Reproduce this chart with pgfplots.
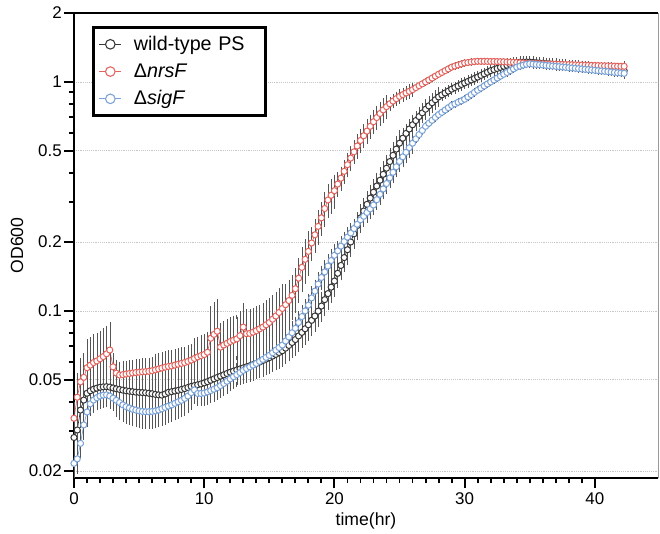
\documentclass[border=0pt]{standalone}
\usepackage{fontspec}
\setmainfont{Liberation Sans}
\usepackage{pgfplots}
\pgfplotsset{compat=1.18}
\usepackage{pgfplotstable}

\definecolor{wtcol}{RGB}{55,55,55}
\definecolor{nrcol}{RGB}{226,100,94}
\definecolor{sgcol}{RGB}{122,162,214}
\definecolor{ebcol}{RGB}{85,85,85}

% t = time (hr); wt, nr, sg = OD600; *e = relative error
\pgfplotstableread{
t wt wte nr nre sg sge
0 0.0280 0.15 0.0340 0.15 0.0216 0.12
0.25 0.0302 0.15 0.0420 0.25 0.0226 0.12
0.5 0.0369 0.15 0.0490 0.25 0.0264 0.12
0.75 0.0408 0.15 0.0513 0.25 0.0318 0.12
1 0.0437 0.12 0.0565 0.30 0.0362 0.12
1.25 0.0448 0.12 0.0580 0.30 0.0393 0.10
1.5 0.0455 0.12 0.0595 0.30 0.0408 0.10
1.75 0.0460 0.12 0.0605 0.30 0.0418 0.10
2 0.0464 0.12 0.0618 0.30 0.0425 0.10
2.25 0.0466 0.12 0.0632 0.30 0.0429 0.10
2.5 0.0467 0.12 0.0650 0.30 0.0430 0.10
2.75 0.0465 0.12 0.0675 0.30 0.0425 0.10
3 0.0461 0.12 0.0570 0.12 0.0416 0.10
3.25 0.0457 0.15 0.0535 0.12 0.0407 0.14
3.5 0.0454 0.15 0.0525 0.12 0.0398 0.14
3.75 0.0451 0.15 0.0527 0.12 0.0389 0.14
4 0.0448 0.15 0.0530 0.12 0.0382 0.14
4.25 0.0446 0.15 0.0533 0.12 0.0377 0.14
4.5 0.0444 0.15 0.0536 0.12 0.0372 0.14
4.75 0.0442 0.15 0.0538 0.12 0.0369 0.14
5 0.0441 0.15 0.0540 0.12 0.0366 0.14
5.25 0.0440 0.15 0.0542 0.12 0.0364 0.14
5.5 0.0439 0.15 0.0543 0.12 0.0363 0.14
5.75 0.0437 0.15 0.0545 0.12 0.0363 0.14
6 0.0435 0.15 0.0548 0.12 0.0364 0.14
6.25 0.0432 0.15 0.0553 0.15 0.0366 0.14
6.5 0.0430 0.15 0.0558 0.15 0.0369 0.14
6.75 0.0429 0.15 0.0563 0.15 0.0374 0.14
7 0.0434 0.15 0.0568 0.15 0.0379 0.14
7.25 0.0441 0.15 0.0572 0.15 0.0384 0.14
7.5 0.0444 0.15 0.0575 0.15 0.0389 0.14
7.75 0.0447 0.15 0.0580 0.15 0.0395 0.14
8 0.0450 0.15 0.0585 0.15 0.0401 0.14
8.25 0.0454 0.15 0.0590 0.15 0.0407 0.14
8.5 0.0458 0.15 0.0595 0.15 0.0415 0.14
8.75 0.0463 0.15 0.0602 0.15 0.0425 0.14
9 0.0468 0.15 0.0610 0.15 0.0440 0.14
9.25 0.0472 0.15 0.0620 0.20 0.0452 0.10
9.5 0.0476 0.15 0.0630 0.20 0.0436 0.10
9.75 0.0480 0.15 0.0638 0.20 0.0436 0.10
10 0.0485 0.15 0.0645 0.20 0.0438 0.10
10.25 0.0491 0.13 0.0660 0.20 0.0443 0.10
10.5 0.0498 0.13 0.0760 0.35 0.0449 0.10
10.75 0.0505 0.13 0.0790 0.35 0.0455 0.10
11 0.0512 0.13 0.0815 0.35 0.0462 0.10
11.25 0.0519 0.13 0.0695 0.25 0.0472 0.10
11.5 0.0526 0.13 0.0710 0.25 0.0482 0.10
11.75 0.0533 0.13 0.0722 0.25 0.0493 0.10
12 0.0540 0.13 0.0735 0.25 0.0505 0.10
12.25 0.0546 0.13 0.0745 0.25 0.0516 0.10
12.5 0.0552 0.13 0.0755 0.25 0.0527 0.10
12.75 0.0558 0.13 0.0780 0.25 0.0538 0.10
13 0.0564 0.13 0.0850 0.25 0.0550 0.10
13.25 0.0570 0.13 0.0795 0.25 0.0560 0.10
13.5 0.0576 0.13 0.0798 0.25 0.0570 0.10
13.75 0.0583 0.13 0.0808 0.25 0.0580 0.10
14 0.0590 0.13 0.0820 0.25 0.0590 0.10
14.25 0.0598 0.13 0.0835 0.25 0.0602 0.10
14.5 0.0607 0.13 0.0850 0.25 0.0614 0.10
14.75 0.0616 0.13 0.0870 0.25 0.0627 0.10
15 0.0625 0.13 0.0890 0.25 0.0640 0.10
15.25 0.0635 0.13 0.0920 0.25 0.0657 0.10
15.5 0.0646 0.13 0.0950 0.25 0.0674 0.10
15.75 0.0658 0.13 0.0985 0.25 0.0692 0.10
16 0.0670 0.13 0.1025 0.25 0.0710 0.10
16.25 0.0688 0.13 0.1065 0.20 0.0739 0.10
16.5 0.0707 0.13 0.1110 0.20 0.0770 0.10
16.75 0.0728 0.13 0.1170 0.20 0.0803 0.10
17 0.0750 0.13 0.1250 0.20 0.0840 0.10
17.25 0.0778 0.13 0.1390 0.20 0.0890 0.10
17.5 0.0806 0.13 0.1550 0.20 0.0945 0.10
17.75 0.0836 0.13 0.1680 0.20 0.1000 0.10
18 0.0870 0.13 0.1820 0.20 0.1060 0.10
18.25 0.0910 0.13 0.1980 0.15 0.1140 0.10
18.5 0.0950 0.13 0.2150 0.15 0.1220 0.10
18.75 0.0998 0.13 0.2340 0.15 0.1310 0.10
19 0.1050 0.13 0.2550 0.15 0.1400 0.10
19.25 0.1120 0.13 0.2800 0.15 0.1480 0.10
19.5 0.1190 0.13 0.3050 0.15 0.1570 0.10
19.75 0.1270 0.13 0.3200 0.15 0.1660 0.10
20 0.1350 0.13 0.3350 0.15 0.1750 0.10
20.25 0.1460 0.12 0.3580 0.10 0.1830 0.08
20.5 0.1580 0.12 0.3800 0.10 0.1920 0.08
20.75 0.1710 0.12 0.4070 0.10 0.2010 0.08
21 0.1850 0.12 0.4350 0.10 0.2100 0.08
21.25 0.2000 0.12 0.4650 0.10 0.2190 0.08
21.5 0.2170 0.12 0.4950 0.10 0.2290 0.08
21.75 0.2360 0.12 0.5250 0.10 0.2390 0.08
22 0.2550 0.12 0.5550 0.10 0.2500 0.08
22.25 0.2730 0.12 0.5820 0.10 0.2590 0.08
22.5 0.2920 0.12 0.6100 0.10 0.2690 0.08
22.75 0.3110 0.12 0.6400 0.10 0.2790 0.08
23 0.3300 0.12 0.6700 0.10 0.2900 0.08
23.25 0.3510 0.12 0.6990 0.10 0.3060 0.08
23.5 0.3720 0.12 0.7280 0.10 0.3230 0.08
23.75 0.3950 0.12 0.7550 0.10 0.3410 0.08
24 0.4200 0.12 0.7800 0.10 0.3600 0.08
24.25 0.4490 0.12 0.8030 0.05 0.3810 0.08
24.5 0.4780 0.12 0.8250 0.05 0.4030 0.08
24.75 0.5090 0.12 0.8450 0.05 0.4260 0.08
25 0.5400 0.12 0.8650 0.05 0.4500 0.08
25.25 0.5680 0.08 0.8800 0.05 0.4710 0.08
25.5 0.5960 0.08 0.8950 0.05 0.4930 0.08
25.75 0.6230 0.08 0.9100 0.05 0.5160 0.08
26 0.6500 0.08 0.9250 0.05 0.5400 0.08
26.25 0.6780 0.08 0.9440 0.015 0.5640 0.02
26.5 0.7060 0.08 0.9630 0.015 0.5890 0.02
26.75 0.7330 0.08 0.9810 0.015 0.6140 0.02
27 0.7600 0.08 1.000 0.015 0.6400 0.02
27.25 0.7860 0.08 1.020 0.015 0.6600 0.02
27.5 0.8110 0.08 1.040 0.015 0.6800 0.02
27.75 0.8360 0.08 1.060 0.015 0.7000 0.02
28 0.8600 0.08 1.080 0.015 0.7200 0.02
28.25 0.8780 0.04 1.100 0.015 0.7370 0.02
28.5 0.8950 0.04 1.120 0.015 0.7540 0.02
28.75 0.9120 0.04 1.140 0.015 0.7720 0.02
29 0.9300 0.04 1.160 0.015 0.7900 0.02
29.25 0.9450 0.04 1.173 0.015 0.8020 0.02
29.5 0.9600 0.04 1.186 0.015 0.8150 0.02
29.75 0.9750 0.04 1.198 0.015 0.8270 0.02
30 0.9900 0.04 1.210 0.015 0.8400 0.02
30.25 1.005 0.04 1.216 0.015 0.8600 0.02
30.5 1.020 0.04 1.222 0.015 0.8800 0.02
30.75 1.035 0.04 1.226 0.015 0.9000 0.02
31 1.050 0.04 1.230 0.015 0.9200 0.02
31.25 1.068 0.04 1.230 0.015 0.9400 0.02
31.5 1.085 0.04 1.230 0.015 0.9600 0.02
31.75 1.102 0.04 1.229 0.015 0.9800 0.02
32 1.120 0.04 1.228 0.015 1.000 0.02
32.25 1.132 0.04 1.228 0.015 1.020 0.02
32.5 1.145 0.04 1.227 0.015 1.040 0.02
32.75 1.158 0.04 1.226 0.015 1.060 0.02
33 1.170 0.04 1.225 0.015 1.080 0.02
33.25 1.182 0.04 1.222 0.015 1.100 0.02
33.5 1.193 0.04 1.220 0.015 1.120 0.02
33.75 1.204 0.04 1.218 0.015 1.140 0.02
34 1.215 0.04 1.215 0.015 1.160 0.02
34.25 1.218 0.04 1.212 0.015 1.172 0.02
34.5 1.220 0.04 1.210 0.015 1.184 0.02
34.75 1.221 0.04 1.207 0.015 1.194 0.02
35 1.220 0.04 1.205 0.015 1.200 0.02
35.25 1.217 0.04 1.204 0.015 1.196 0.02
35.5 1.213 0.04 1.202 0.015 1.192 0.02
35.75 1.210 0.04 1.201 0.015 1.189 0.02
36 1.206 0.04 1.200 0.015 1.185 0.02
36.25 1.203 0.04 1.199 0.015 1.181 0.02
36.5 1.200 0.04 1.197 0.015 1.177 0.02
36.75 1.196 0.04 1.196 0.015 1.173 0.02
37 1.193 0.04 1.195 0.015 1.170 0.02
37.25 1.189 0.04 1.194 0.015 1.166 0.02
37.5 1.186 0.04 1.192 0.015 1.162 0.02
37.75 1.182 0.04 1.191 0.015 1.158 0.02
38 1.179 0.04 1.190 0.015 1.154 0.02
38.25 1.176 0.04 1.189 0.015 1.151 0.02
38.5 1.172 0.04 1.187 0.015 1.147 0.02
38.75 1.169 0.04 1.186 0.015 1.143 0.02
39 1.165 0.04 1.185 0.015 1.139 0.02
39.25 1.162 0.04 1.184 0.015 1.135 0.02
39.5 1.158 0.04 1.182 0.015 1.132 0.02
39.75 1.155 0.04 1.181 0.015 1.128 0.02
40 1.151 0.04 1.180 0.015 1.124 0.02
40.25 1.148 0.04 1.179 0.015 1.120 0.02
40.5 1.144 0.04 1.177 0.015 1.116 0.02
40.75 1.141 0.04 1.176 0.015 1.113 0.02
41 1.138 0.04 1.175 0.015 1.109 0.02
41.25 1.134 0.04 1.174 0.015 1.105 0.02
41.5 1.131 0.04 1.172 0.015 1.101 0.02
41.75 1.127 0.04 1.171 0.015 1.097 0.02
42 1.124 0.04 1.170 0.015 1.094 0.02
42.25 1.120 0.06 1.170 0.03 1.090 0.02
}\growth

\begin{document}
\begin{tikzpicture}
\begin{axis}[
    scale only axis,
    width=438pt, height=348.75pt,
    xmin=0, xmax=44.85,
    ymode=log, ymin=0.01864, ymax=2,
    axis x line*=bottom, axis y line*=left,
    axis line style={black, line width=1.6pt},
    xtick={0,10,20,30,40},
    minor x tick num=9,
    ytick={0.02,0.05,0.1,0.2,0.5,1,2},
    yticklabels={0.02,0.05,0.1,0.2,0.5,1,2},
    minor ytick={0.03,0.04,0.06,0.07,0.08,0.09,0.3,0.4,0.6,0.7,0.8,0.9},
    tick align=outside,
    major tick length=7.5pt, minor tick length=3.75pt,
    tick style={black, line width=1.4pt},
    ymajorgrids,
    major grid style={densely dotted, black!22, line width=0.6pt},
    /pgf/number format/assume math mode=true,
    tick label style={font=\fontsize{12.7}{15}\selectfont},
    yticklabel style={inner sep=1.5pt},
    xlabel={time(hr)}, ylabel={OD600},
    every axis x label/.style={at={(axis description cs:0.5,-0.0925)}, anchor=center,
        font=\fontsize{13.2}{15}\selectfont},
    every axis y label/.style={at={(axis description cs:-0.0976,0.5)}, rotate=90, anchor=center,
        font=\fontsize{13.2}{15}\selectfont},
    clip=false,
    legend image code/.code={
        \draw[line width=0.8pt] (0pt,0pt) -- (16.5pt,0pt);
        \draw[fill=white, line width=0.8pt] (8.25pt,0pt) circle (3.6pt);
    },
    legend style={at={(axis description cs:0.0308,0.972)}, anchor=north west,
        draw=black, line width=2.2pt, font=\fontsize{14.8}{17}\selectfont,
        inner xsep=4pt, inner ysep=4.5pt, cells={anchor=west}, row sep=4.5pt,
        /tikz/column 1/.style={column sep=7pt},
        /tikz/column 2/.style={text width=93pt}},
]
\addplot[color=wtcol, line width=0.5pt, mark=*, mark size=2.3pt,
    mark options={fill=white, draw=wtcol, line width=0.75pt},
    error bars/.cd, y dir=both, y explicit relative,
    error bar style={ebcol, line width=0.4pt},
    error mark options={ebcol, line width=0.4pt, mark size=1.6pt}]
    table[x=t, y=wt, y error=wte]{\growth};
\addlegendentry{wild-type PS}
\addplot[color=nrcol, line width=0.5pt, mark=*, mark size=2.3pt,
    mark options={fill=white, draw=nrcol, line width=0.75pt},
    error bars/.cd, y dir=both, y explicit relative,
    error bar style={ebcol, line width=0.4pt},
    error mark options={ebcol, line width=0.4pt, mark size=1.6pt}]
    table[x=t, y=nr, y error=nre]{\growth};
\addlegendentry{Δ\textit{nrsF}}
\addplot[color=sgcol, line width=0.5pt, mark=*, mark size=2.3pt,
    mark options={fill=white, draw=sgcol, line width=0.75pt},
    error bars/.cd, y dir=both, y explicit relative,
    error bar style={ebcol, line width=0.4pt},
    error mark options={ebcol, line width=0.4pt, mark size=1.6pt}]
    table[x=t, y=sg, y error=sge]{\growth};
\addlegendentry{Δ\textit{sigF}}
% frame: thick top, thin grey right
\draw[black, line width=1.6pt] (rel axis cs:0,1) -- (rel axis cs:1,1);
\draw[black!40, line width=0.6pt] (rel axis cs:1,0) -- (rel axis cs:1,1);
\coordinate (bl) at (rel axis cs:0,0);
\coordinate (tr) at (rel axis cs:1,1);
\end{axis}
\pgfresetboundingbox
\path ([xshift=-55.5pt,yshift=-41.25pt]bl) rectangle ([xshift=1.5pt,yshift=9.75pt]tr);
\end{tikzpicture}
\end{document}
